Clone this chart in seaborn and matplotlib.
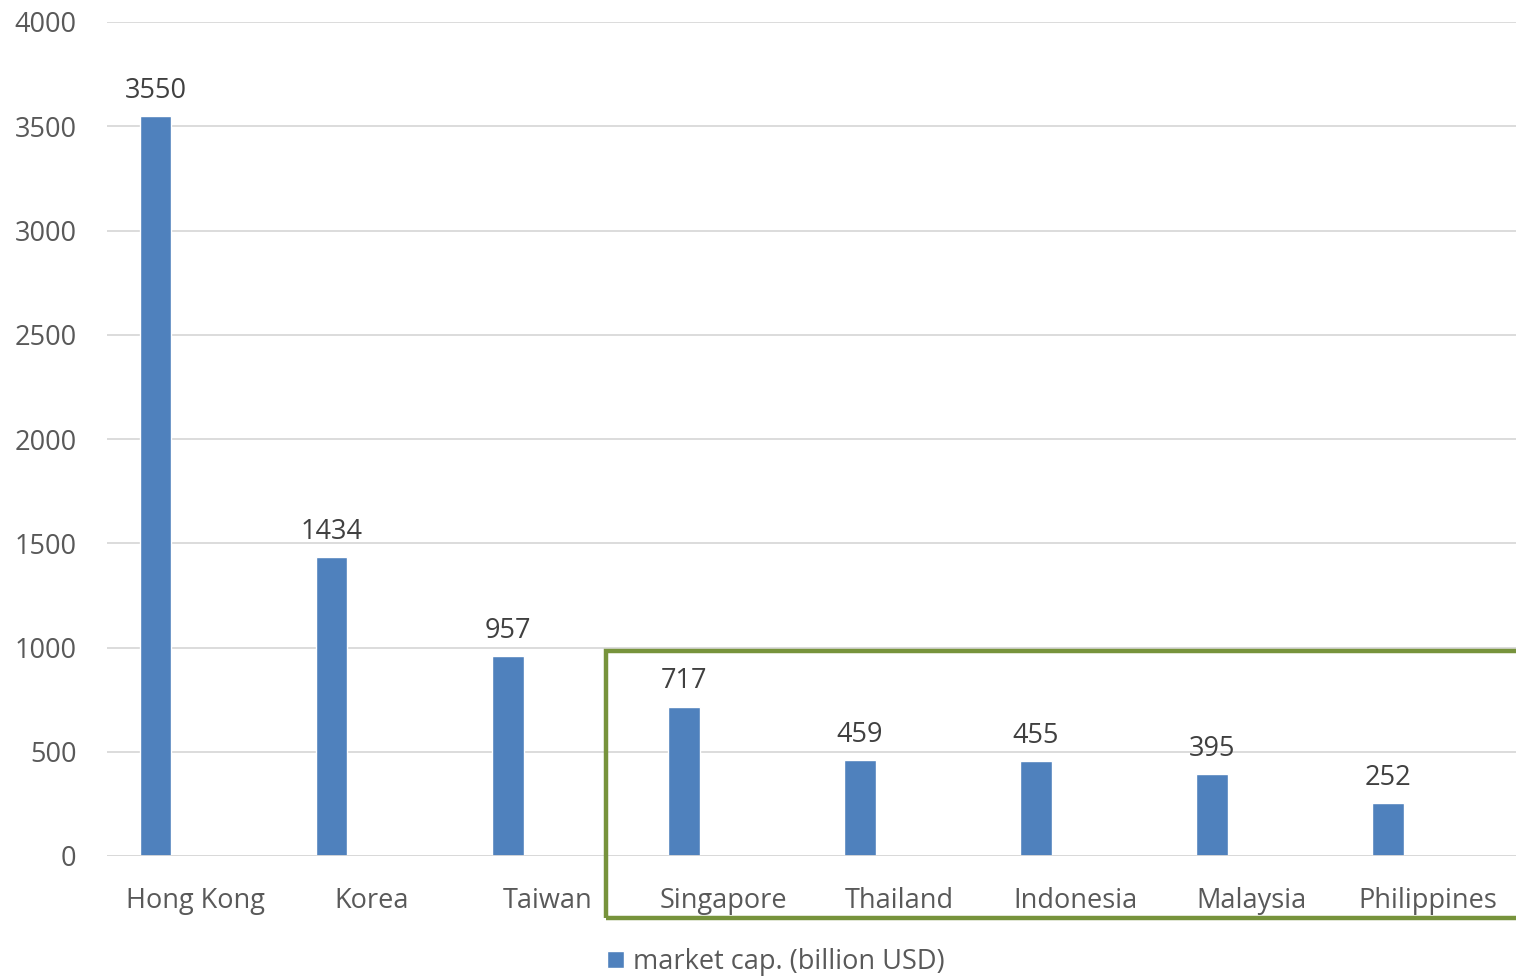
import numpy as np
import pandas as pd
import matplotlib.pyplot as plt
import seaborn as sns
from matplotlib.patches import Patch, Rectangle

markets = ["Hong Kong", "Korea", "Taiwan", "Singapore", "Thailand",
           "Indonesia", "Malaysia", "Philippines"]
market_cap = [3550, 1434, 957, 717, 459, 455, 395, 252]
series_name = "market cap. (billion USD)"

# Excel layout had an empty second series, so the bars sit left of each slot
df = pd.DataFrame({
    "market": markets * 2,
    "value": market_cap + [0] * len(markets),
    "series": [series_name] * len(markets) + ["blank"] * len(markets),
})

sns.set_theme(style="white")
plt.rcParams["font.family"] = ["Open Sans", "DejaVu Sans"]

bar_color = "#4F81BD"
fs = 19.5
fig = plt.figure(figsize=(15.16, 9.76), dpi=100)
ax = fig.add_axes([107 / 1516, 120 / 976, 1409 / 1516, 834 / 976])

sns.barplot(data=df, x="market", y="value", hue="series",
            hue_order=[series_name, "blank"],
            palette=[bar_color, "white"], width=0.9, gap=0.6,
            saturation=1, dodge=True, legend=False, ax=ax)

ax.bar_label(ax.containers[0], fmt="%d", padding=8, fontsize=fs,
             color="#404040")

ax.set_ylim(0, 4000)
ax.set_xlim(-0.5, 7.5)
ax.set_yticks(np.arange(0, 4001, 500))
ax.yaxis.grid(True, color="#D9D9D9", linewidth=1.3)
ax.set_axisbelow(True)
for s in ["top", "right", "left", "bottom"]:
    ax.spines[s].set_visible(False)
ax.axhline(0, color="#D9D9D9", linewidth=1.3)
ax.tick_params(axis="both", length=0, labelsize=fs, colors="#595959")
ax.tick_params(axis="y", pad=22)
ax.tick_params(axis="x", pad=22)
ax.set_xlabel("")
ax.set_ylabel("")

# green highlight box around Southeast Asian markets
fig.patches.append(Rectangle((606 / 1516, 58 / 976), 1000 / 1516, 267 / 976,
                             transform=fig.transFigure, fill=False,
                             edgecolor="#77933C", linewidth=3.2))

fig.legend(handles=[Patch(facecolor=bar_color, label=series_name)],
           loc="center", bbox_to_anchor=(776 / 1516, 14 / 976),
           frameon=False, fontsize=fs, labelcolor="#595959",
           handlelength=0.6, handleheight=0.6, handletextpad=0.35)

fig.savefig("out.png", dpi=100)
